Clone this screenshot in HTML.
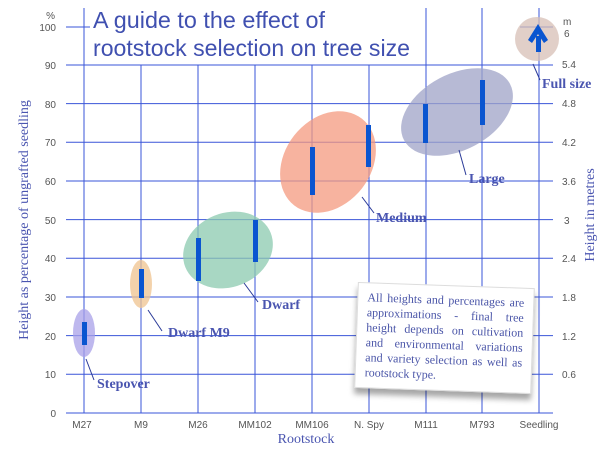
<!DOCTYPE html>
<html><head><meta charset="utf-8"><style>
html,body{margin:0;padding:0;background:#fff;}
body{width:600px;height:450px;overflow:hidden;position:relative;font-family:"Liberation Sans",sans-serif;}
.note{position:absolute;left:356px;top:285px;width:177px;height:106px;background:#fff;box-shadow:0 6px 6px rgba(0,0,0,0.35);transform:rotate(2deg);font-family:"Liberation Serif",serif;font-size:12px;color:#4a55a8;line-height:15px;text-align:justify;padding:7px 9px;box-sizing:border-box;border:1px solid #ddd;}
</style></head><body>
<svg width="600" height="450" xmlns="http://www.w3.org/2000/svg" style="position:absolute;left:0;top:0">
<g stroke="#3a55d8" stroke-width="1" fill="none">
<line x1="66" y1="413" x2="553" y2="413"/>
<line x1="66" y1="374.3" x2="553" y2="374.3"/>
<line x1="66" y1="335.6" x2="553" y2="335.6"/>
<line x1="66" y1="297" x2="553" y2="297"/>
<line x1="66" y1="258.3" x2="553" y2="258.3"/>
<line x1="66" y1="219.6" x2="553" y2="219.6"/>
<line x1="66" y1="181" x2="553" y2="181"/>
<line x1="66" y1="142.3" x2="553" y2="142.3"/>
<line x1="66" y1="103.6" x2="553" y2="103.6"/>
<line x1="66" y1="65" x2="553" y2="65"/>
<line x1="66" y1="27" x2="90" y2="27"/>
<line x1="520" y1="27" x2="553" y2="27"/>
<line x1="84" y1="8" x2="84" y2="413"/>
<line x1="141" y1="65" x2="141" y2="413"/>
<line x1="198" y1="65" x2="198" y2="413"/>
<line x1="255" y1="65" x2="255" y2="413"/>
<line x1="312" y1="65" x2="312" y2="413"/>
<line x1="369" y1="65" x2="369" y2="413"/>
<line x1="426" y1="8" x2="426" y2="413"/>
<line x1="482" y1="8" x2="482" y2="413"/>
<line x1="539" y1="8" x2="539" y2="413"/>
</g>
<g opacity="0.75">
<ellipse cx="84" cy="333" rx="11" ry="24" fill="#a8a0e8"/>
<ellipse cx="141" cy="284" rx="11" ry="24" fill="#f0c490"/>
<ellipse cx="228" cy="250" rx="46" ry="37" transform="rotate(-22 228 250)" fill="#8ccab0"/>
<ellipse cx="328" cy="162" rx="55" ry="43" transform="rotate(-52 328 162)" fill="#f59a80"/>
<ellipse cx="457" cy="112" rx="60" ry="38" transform="rotate(-28 457 112)" fill="#a0a4c8"/>
<circle cx="537" cy="39" r="22" fill="#d8c0b6"/>
</g>
<g fill="#0a55d0">
<rect x="82" y="322" width="5" height="23"/>
<rect x="139" y="269" width="5" height="29"/>
<rect x="196" y="238" width="5" height="43"/>
<rect x="253" y="220" width="5" height="42"/>
<rect x="310" y="147" width="5" height="48"/>
<rect x="366" y="125" width="5" height="42"/>
<rect x="423" y="104" width="5" height="39"/>
<rect x="480" y="80" width="5" height="45"/>
<rect x="536" y="36" width="5" height="16"/>
<polygon points="538,24 548,40 544,43 538,34 532,43 528,40"/>
</g>
<g stroke="#2a3a98" stroke-width="1">
<line x1="86" y1="359" x2="94" y2="380"/>
<line x1="148" y1="310" x2="162" y2="331"/>
<line x1="244" y1="283" x2="258" y2="302"/>
<line x1="362" y1="197" x2="374" y2="213"/>
<line x1="459" y1="150" x2="466" y2="175"/>
<line x1="533" y1="64" x2="540" y2="80"/>
</g>
<g font-family="Liberation Serif, serif" font-weight="bold" font-size="14" fill="#4a55b0">
<text x="97" y="388">Stepover</text>
<text x="168" y="337">Dwarf M9</text>
<text x="262" y="309">Dwarf</text>
<text x="376" y="222">Medium</text>
<text x="469" y="183">Large</text>
<text x="542" y="88">Full size</text>
</g>
<g font-size="10" fill="#555" text-anchor="end">
<text x="56" y="31">100</text><text x="56" y="69">90</text><text x="56" y="108">80</text>
<text x="56" y="146">70</text><text x="56" y="185">60</text><text x="56" y="224">50</text>
<text x="56" y="262">40</text><text x="56" y="301">30</text><text x="56" y="340">20</text>
<text x="56" y="378">10</text><text x="56" y="417">0</text><text x="55" y="19">%</text>
</g>
<g font-size="10" fill="#555">
<text x="564" y="37">6</text><text x="562" y="68">5.4</text><text x="562" y="107">4.8</text>
<text x="562" y="146">4.2</text><text x="562" y="185">3.6</text><text x="564" y="224">3</text>
<text x="562" y="262">2.4</text><text x="562" y="301">1.8</text><text x="562" y="340">1.2</text>
<text x="562" y="378">0.6</text><text x="563" y="25">m</text>
</g>
<g font-size="10" fill="#555" text-anchor="middle">
<text x="82" y="428">M27</text><text x="141" y="428">M9</text><text x="198" y="428">M26</text>
<text x="255" y="428">MM102</text><text x="312" y="428">MM106</text><text x="369" y="428">N. Spy</text>
<text x="426" y="428">M111</text><text x="482" y="428">M793</text><text x="539" y="428">Seedling</text>
</g>
<text x="306" y="443" text-anchor="middle" font-family="Liberation Serif, serif" font-size="14" fill="#4a55b0">Rootstock</text>
<text transform="translate(28 220) rotate(-90)" text-anchor="middle" font-family="Liberation Serif, serif" font-size="14" fill="#4a55b0">Height as percentage of ungrafted seedling</text>
<text transform="translate(594 215) rotate(-90)" text-anchor="middle" font-family="Liberation Serif, serif" font-size="14" fill="#4a55b0">Height in metres</text>
<g font-size="23" fill="#4050b0">
<text x="93" y="28" textLength="232" lengthAdjust="spacingAndGlyphs">A guide to the effect of</text>
<text x="93" y="56" textLength="317" lengthAdjust="spacingAndGlyphs">rootstock selection on tree size</text>
</g>
</svg>
<div class="note">All heights and percentages are approximations - final tree height depends on cultivation and environmental variations and variety selection as well as rootstock type.</div>
</body></html>
